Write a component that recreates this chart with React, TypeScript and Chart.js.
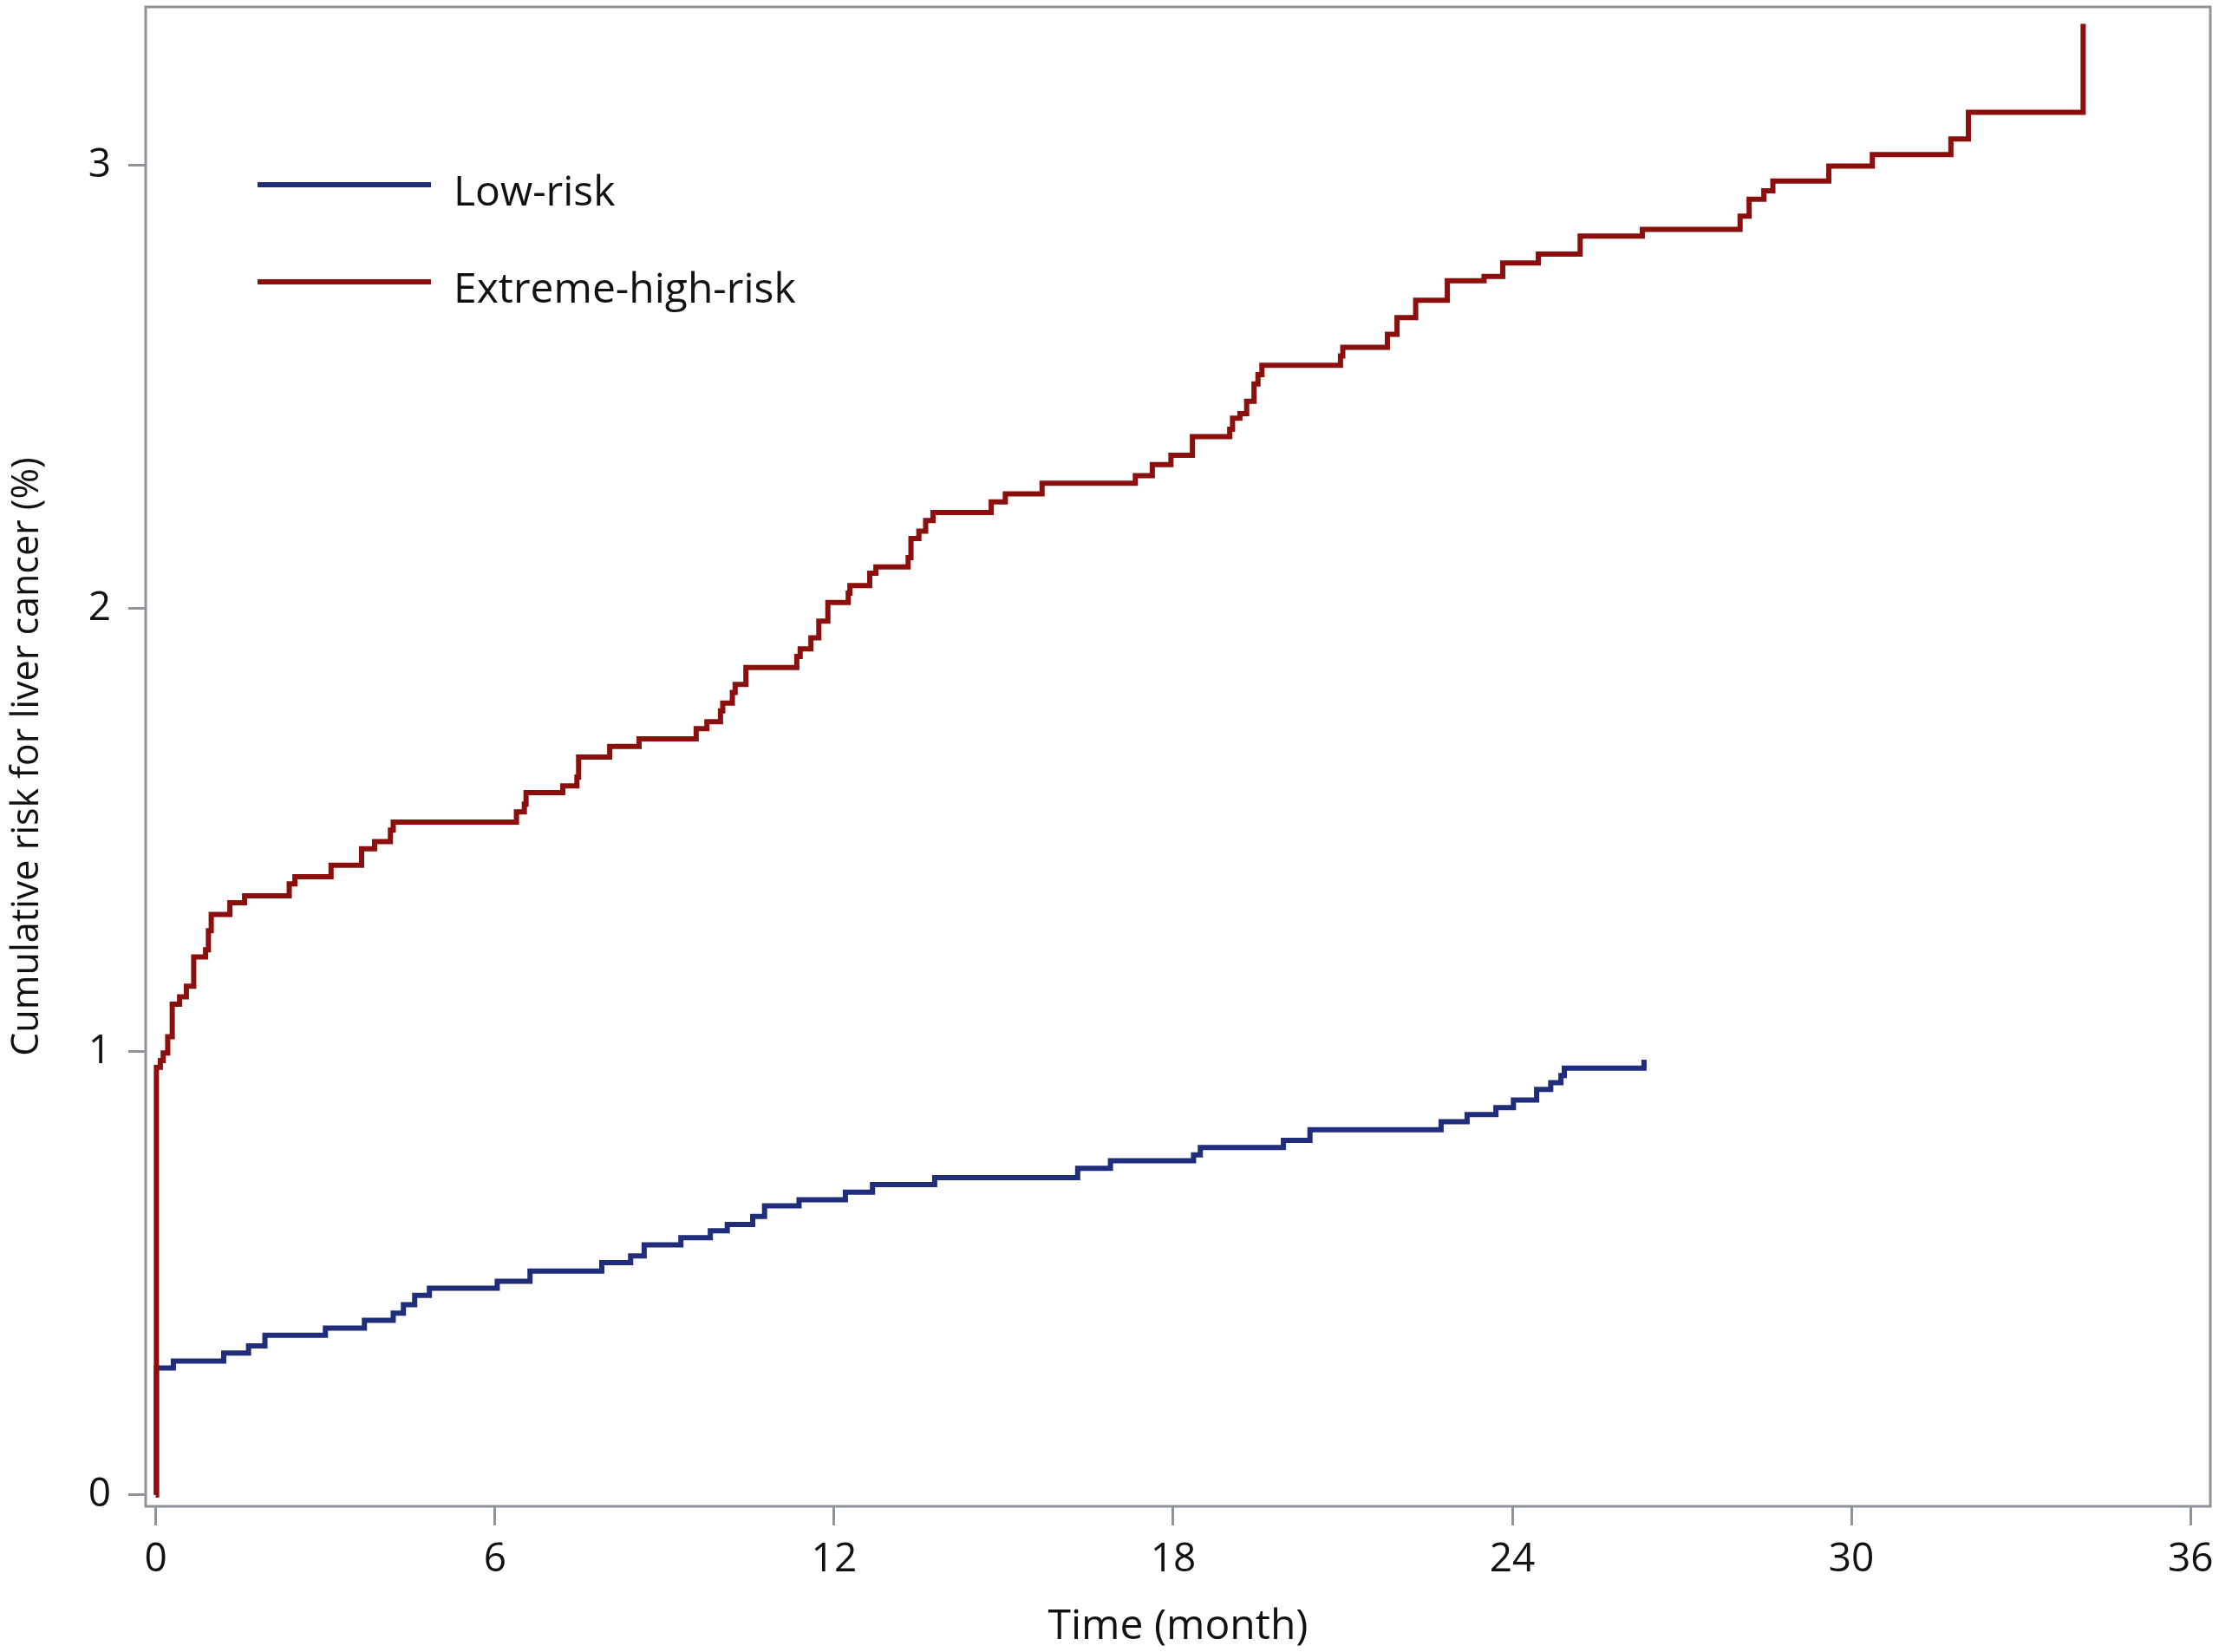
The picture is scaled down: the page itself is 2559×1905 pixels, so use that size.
import { useEffect, useRef } from "react";
import { Chart, registerables } from "chart.js";

Chart.register(...registerables);

const xTicks = [0, 6, 12, 18, 24, 30, 36];
const yTicks = [0, 1, 2, 3];

const lowRiskMonths = [
  0, 0.01, 0.31, 1.2, 1.64, 1.93, 3.0, 3.69, 4.2, 4.38, 4.58, 4.84, 6.04, 6.62,
  7.89, 8.4, 8.64, 9.29, 9.81, 10.11, 10.56, 10.77, 11.38, 12.2, 12.68, 13.78,
  16.31, 16.89, 18.36, 18.48, 19.95, 20.42, 22.74, 23.2, 23.71, 24.02, 24.43,
  24.68, 24.86, 24.92, 26.33,
];
const lowRiskValues = [
  0, 0.286, 0.302, 0.32, 0.336, 0.36, 0.376, 0.394, 0.41, 0.429, 0.45, 0.466,
  0.482, 0.505, 0.524, 0.539, 0.564, 0.58, 0.596, 0.61, 0.628, 0.652, 0.666,
  0.683, 0.7, 0.716, 0.737, 0.754, 0.767, 0.784, 0.8, 0.824, 0.842, 0.858,
  0.874, 0.891, 0.915, 0.93, 0.946, 0.963, 0.982,
];

const extremeMonths = [
  0, 0.01, 0.08, 0.13, 0.21, 0.29, 0.42, 0.54, 0.67, 0.88, 0.93, 0.98, 1.31,
  1.57, 2.36, 2.46, 3.1, 3.64, 3.87, 4.15, 4.2, 6.38, 6.52, 6.55, 7.2, 7.45,
  7.48, 8.03, 8.55, 9.56, 9.75, 9.99, 10.03, 10.2, 10.25, 10.44, 11.34, 11.4,
  11.59, 11.73, 11.89, 12.25, 12.28, 12.63, 12.74, 13.31, 13.36, 13.5, 13.62,
  13.75, 14.78, 15.03, 15.68, 17.33, 17.63, 17.96, 18.34, 19.0, 19.05, 19.18,
  19.3, 19.43, 19.5, 19.57, 20.96, 21.0, 21.79, 21.96, 22.29, 22.85, 23.5,
  23.83, 24.46, 25.2, 26.3, 28.03, 28.19, 28.45, 28.61, 29.6, 30.37, 31.76,
  32.07, 34.1,
];
const extremeValues = [
  0, 0.965, 0.98, 0.997, 1.034, 1.107, 1.124, 1.148, 1.214, 1.23, 1.273, 1.31,
  1.336, 1.352, 1.379, 1.395, 1.421, 1.458, 1.474, 1.5, 1.518, 1.541, 1.559,
  1.585, 1.6, 1.62, 1.665, 1.689, 1.706, 1.729, 1.745, 1.769, 1.787, 1.811,
  1.829, 1.867, 1.892, 1.909, 1.934, 1.972, 2.014, 2.035, 2.052, 2.08, 2.094,
  2.115, 2.158, 2.175, 2.199, 2.217, 2.241, 2.259, 2.283, 2.3, 2.325, 2.346,
  2.388, 2.405, 2.43, 2.44, 2.468, 2.507, 2.528, 2.549, 2.57, 2.59, 2.619,
  2.657, 2.696, 2.74, 2.75, 2.78, 2.8, 2.841, 2.856, 2.886, 2.924, 2.943,
  2.965, 2.999, 3.025, 3.06, 3.12, 3.32,
];

const FONT = "'Open Sans', 'Noto Sans', sans-serif";
const FRAME = "#8e9499";

const toPoints = (xs: number[], ys: number[]) =>
  xs.map((x, i) => ({ x, y: ys[i] }));

// grey box round the plot area
const framePlugin = {
  id: "frame",
  beforeDatasetsDraw(chart: Chart) {
    const { ctx, chartArea } = chart;
    ctx.save();
    ctx.strokeStyle = FRAME;
    ctx.lineWidth = 3;
    ctx.strokeRect(
      chartArea.left,
      chartArea.top,
      chartArea.right - chartArea.left,
      chartArea.bottom - chartArea.top
    );
    ctx.restore();
  },
};

// legend sits inside the plot, top left, one row per series
const insetLegend = {
  id: "insetLegend",
  afterDatasetsDraw(chart: Chart) {
    const { ctx, chartArea } = chart;
    chart.data.datasets.forEach((ds: any, i: number) => {
      const x0 = chartArea.left + 129;
      const y = chartArea.top + 205 + i * 112;
      ctx.save();
      ctx.strokeStyle = ds.borderColor;
      ctx.lineWidth = 6;
      ctx.beginPath();
      ctx.moveTo(x0, y);
      ctx.lineTo(x0 + 200, y);
      ctx.stroke();
      ctx.fillStyle = "#111111";
      ctx.font = `48px ${FONT}`;
      ctx.textBaseline = "alphabetic";
      ctx.fillText(ds.label, x0 + 226, y + 24);
      ctx.restore();
    });
  },
};

export default function App() {
  const canvasRef = useRef<HTMLCanvasElement>(null);
  const chartRef = useRef<Chart | null>(null);

  useEffect(() => {
    if (!canvasRef.current) return;
    if (chartRef.current) chartRef.current.destroy();

    chartRef.current = new Chart(canvasRef.current, {
      type: "line",
      data: {
        datasets: [
          {
            label: "Low-risk",
            data: toPoints(lowRiskMonths, lowRiskValues),
            borderColor: "#1f2d7b",
            borderWidth: 6,
            stepped: true,
            pointRadius: 0,
            fill: false,
            order: 1,
          },
          {
            label: "Extreme-high-risk",
            data: toPoints(extremeMonths, extremeValues),
            borderColor: "#8b0f0c",
            borderWidth: 6,
            stepped: true,
            pointRadius: 0,
            fill: false,
            order: 0,
          },
        ],
      },
      options: {
        animation: false,
        responsive: true,
        maintainAspectRatio: false,
        devicePixelRatio: 1,
        layout: { padding: { top: 8, right: 10, left: 0, bottom: 0 } },
        plugins: {
          legend: { display: false },
          tooltip: { enabled: false },
        },
        scales: {
          x: {
            type: "linear",
            min: -0.18,
            max: 36.35,
            afterBuildTicks: (scale) => {
              scale.ticks = xTicks.map((value) => ({ value }));
            },
            afterFit: (scale: any) => {
              scale.height = 168;
              scale.paddingLeft = 0;
              scale.paddingRight = 0;
            },
            grid: {
              drawOnChartArea: false,
              drawTicks: true,
              tickLength: 22,
              color: FRAME,
              lineWidth: 3,
            },
            border: { display: false },
            ticks: {
              color: "#111111",
              font: { family: FONT, size: 46 },
              padding: 12,
              maxRotation: 0,
            },
            title: {
              display: true,
              text: "Time (month)",
              color: "#111111",
              font: { family: FONT, size: 48 },
              padding: { top: 0, bottom: 0 },
            },
          },
          y: {
            type: "linear",
            min: -0.026,
            max: 3.358,
            afterBuildTicks: (scale) => {
              scale.ticks = yTicks.map((value) => ({ value }));
            },
            afterFit: (scale: any) => {
              scale.width = 168;
              scale.paddingTop = 0;
              scale.paddingBottom = 0;
            },
            grid: {
              drawOnChartArea: false,
              drawTicks: true,
              tickLength: 20,
              color: FRAME,
              lineWidth: 3,
            },
            border: { display: false },
            ticks: {
              color: "#111111",
              font: { family: FONT, size: 46 },
              padding: 20,
            },
            title: {
              display: true,
              text: "Cumulative risk for liver cancer (%)",
              color: "#111111",
              font: { family: FONT, size: 43 },
              padding: { top: 6, bottom: 0 },
            },
          },
        },
      },
      plugins: [framePlugin, insetLegend],
    });

    return () => {
      if (chartRef.current) {
        chartRef.current.destroy();
        chartRef.current = null;
      }
    };
  }, []);

  return (
    <div
      style={{
        position: "absolute",
        left: 0,
        top: 0,
        width: 2559,
        height: 1905,
        background: "#ffffff",
      }}
    >
      <canvas ref={canvasRef} />
    </div>
  );
}
